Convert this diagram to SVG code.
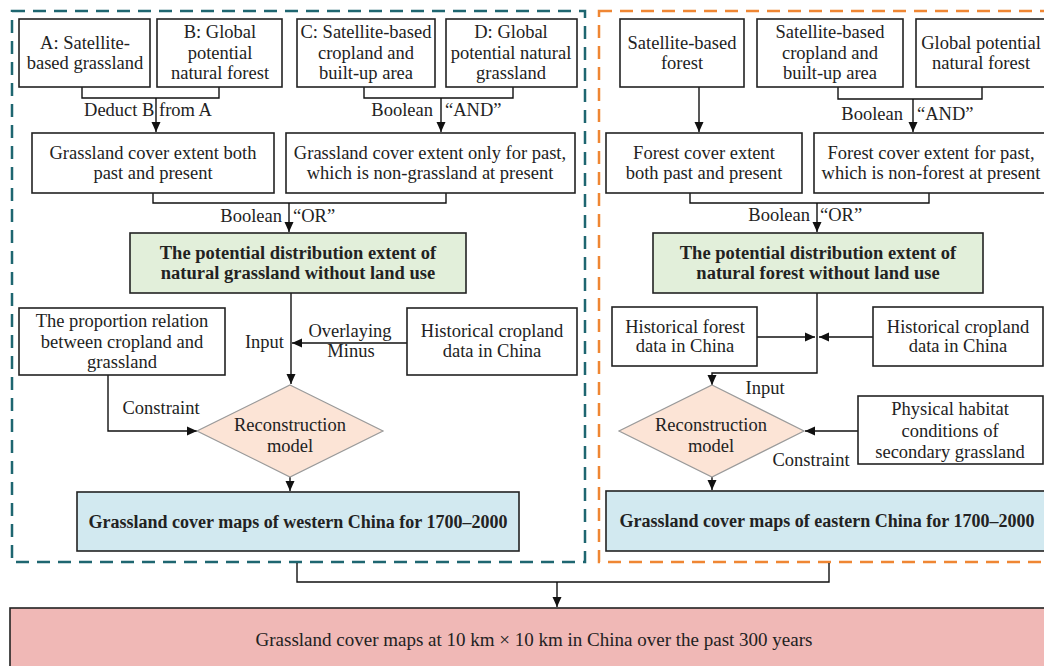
<svg xmlns="http://www.w3.org/2000/svg" width="1044" height="666" viewBox="0 0 1044 666">
<defs>
<marker id="ah" markerUnits="userSpaceOnUse" markerWidth="11" markerHeight="10" refX="10" refY="5" orient="auto"><path d="M0,0.5 L10,5 L0,9.5 z" fill="#111"/></marker>
<style>
.box{fill:#fff;stroke:#222;stroke-width:1.6}
.green{fill:#e2efda;stroke:#222;stroke-width:1.6}
.blue{fill:#d2e9f0;stroke:#222;stroke-width:1.6}
.pink{fill:#f0b8b6;stroke:#222;stroke-width:1.6}
.dia{fill:#fce4d6;stroke:#9a9a9a;stroke-width:1.2}
.t{font-family:"Liberation Serif","Times New Roman",serif;font-size:18.5px;fill:#222;text-anchor:middle}
.s{text-anchor:start}
.e{text-anchor:end}
.b{font-weight:bold}
.ln{fill:none;stroke:#111;stroke-width:1.4}
.ar{fill:none;stroke:#111;stroke-width:1.4;marker-end:url(#ah)}
.cont{fill:none;stroke-width:2.5;stroke-dasharray:13 8}
</style>
</defs>
<rect width="1044" height="666" fill="#fff"/>
<g id="containers">
<rect class="cont" x="12" y="11" width="573" height="551" stroke="#1e6670"/>
<rect class="cont" x="599" y="11" width="460" height="551" stroke="#ef8633"/>
</g>
<g id="connectors">
<path class="ln" d="M82,87 V98 H219 V87"/>
<path class="ar" d="M156,98 V132"/>
<path class="ln" d="M364,87 V98 H513 V87"/>
<path class="ar" d="M441,98 V132"/>
<path class="ln" d="M153,193 V203 H446 V193"/>
<path class="ar" d="M289,203 V232"/>
<path class="ar" d="M291,293 V384"/>
<path class="ar" d="M407,343 H292"/>
<path class="ar" d="M108,375 V431 H197"/>
<path class="ar" d="M290,477 V491"/>
<path class="ln" d="M297,563 V582 H829 V563"/>
<path class="ar" d="M557,582 V607"/>
<path class="ar" d="M699,87 V132"/>
<path class="ln" d="M838,87 V99 H982 V87"/>
<path class="ar" d="M913,99 V132"/>
<path class="ln" d="M690,193 V203 H929 V193"/>
<path class="ar" d="M817,203 V232"/>
<path class="ar" d="M817,293 V373 H712 V385"/>
<path class="ar" d="M757,337 H815"/>
<path class="ar" d="M873,337 H819"/>
<path class="ar" d="M858,431 H805"/>
<path class="ar" d="M712,477 V490"/>
</g>
<g id="labels">
<text class="t" x="148" y="116">Deduct B from A</text>
<text class="t e" x="433" y="116">Boolean</text>
<text class="t s" x="445" y="116">“AND”</text>
<text class="t e" x="282" y="222">Boolean</text>
<text class="t s" x="293" y="222">“OR”</text>
<text class="t e" x="284" y="348">Input</text>
<text class="t" x="350" y="337">Overlaying</text>
<text class="t" x="351" y="357">Minus</text>
<text class="t" x="161" y="414">Constraint</text>
<text class="t e" x="903" y="120">Boolean</text>
<text class="t s" x="917" y="120">“AND”</text>
<text class="t e" x="810" y="221">Boolean</text>
<text class="t s" x="820" y="221">“OR”</text>
<text class="t" x="765" y="394">Input</text>
<text class="t" x="811" y="466">Constraint</text>
</g>
<g id="nA"><rect class="box" x="19" y="19" width="131" height="68"/><text class="t" x="85" y="49">A: Satellite-</text><text class="t" x="85" y="69">based grassland</text></g>
<g id="nB"><rect class="box" x="157" y="19" width="125" height="68"/><text class="t" x="220" y="38">B: Global</text><text class="t" x="220" y="59">potential</text><text class="t" x="220" y="79">natural forest</text></g>
<g id="nC"><rect class="box" x="297" y="19" width="138" height="68"/><text class="t" x="366" y="38">C: Satellite-based</text><text class="t" x="366" y="59">cropland and</text><text class="t" x="366" y="79">built-up area</text></g>
<g id="nD"><rect class="box" x="446" y="19" width="131" height="68"/><text class="t" x="511" y="38">D: Global</text><text class="t" x="511" y="59">potential natural</text><text class="t" x="511" y="79">grassland</text></g>
<g id="nE"><rect class="box" x="32" y="133" width="242" height="60"/><text class="t" x="153" y="159">Grassland cover extent both</text><text class="t" x="153" y="179">past and present</text></g>
<g id="nF"><rect class="box" x="286" y="133" width="289" height="60"/><text class="t" x="430" y="159">Grassland cover extent only for past,</text><text class="t" x="430" y="179">which is non-grassland at present</text></g>
<g id="nG"><rect class="green" x="130" y="233" width="336" height="60"/><text class="t b" x="298" y="259">The potential distribution extent of</text><text class="t b" x="298" y="279">natural grassland without land use</text></g>
<g id="nP"><rect class="box" x="19" y="308" width="206" height="67"/><text class="t" x="122" y="327">The proportion relation</text><text class="t" x="122" y="348">between cropland and</text><text class="t" x="122" y="368">grassland</text></g>
<g id="nH"><rect class="box" x="407" y="308" width="170" height="67"/><text class="t" x="492" y="337">Historical cropland</text><text class="t" x="492" y="357">data in China</text></g>
<g id="nRL"><polygon class="dia" points="290,385 383,431 290,477 197,431"/><text class="t" x="290" y="431">Reconstruction</text><text class="t" x="290" y="452">model</text></g>
<g id="nWL"><rect class="blue" x="77" y="492" width="442" height="59"/><text class="t b" x="298" y="528" style="font-size:18px">Grassland cover maps of western China for 1700–2000</text></g>
<g id="nSF"><rect class="box" x="620" y="19" width="124" height="68"/><text class="t" x="682" y="49">Satellite-based</text><text class="t" x="682" y="69">forest</text></g>
<g id="nSC"><rect class="box" x="757" y="19" width="146" height="68"/><text class="t" x="830" y="38">Satellite-based</text><text class="t" x="830" y="59">cropland and</text><text class="t" x="830" y="79">built-up area</text></g>
<g id="nGP"><rect class="box" x="916" y="19" width="134" height="68"/><text class="t" x="981" y="49">Global potential</text><text class="t" x="981" y="69">natural forest</text></g>
<g id="nFE1"><rect class="box" x="606" y="133" width="196" height="60"/><text class="t" x="704" y="159">Forest cover extent</text><text class="t" x="704" y="179">both past and present</text></g>
<g id="nFE2"><rect class="box" x="814" y="133" width="236" height="60"/><text class="t" x="931" y="159">Forest cover extent for past,</text><text class="t" x="931" y="179">which is non-forest at present</text></g>
<g id="nGR"><rect class="green" x="653" y="233" width="330" height="60"/><text class="t b" x="818" y="259">The potential distribution extent of</text><text class="t b" x="818" y="279">natural forest without land use</text></g>
<g id="nHF"><rect class="box" x="612" y="307" width="145" height="59"/><text class="t" x="685" y="333">Historical forest</text><text class="t" x="685" y="352">data in China</text></g>
<g id="nHC"><rect class="box" x="873" y="307" width="170" height="59"/><text class="t" x="958" y="333">Historical cropland</text><text class="t" x="958" y="352">data in China</text></g>
<g id="nRR"><polygon class="dia" points="712,385 804,431 712,477 619,431"/><text class="t" x="711" y="431">Reconstruction</text><text class="t" x="711" y="452">model</text></g>
<g id="nPH"><rect class="box" x="858" y="396" width="185" height="68"/><text class="t" x="950" y="415">Physical habitat</text><text class="t" x="950" y="437">conditions of</text><text class="t" x="950" y="458">secondary grassland</text></g>
<g id="nWR"><rect class="blue" x="606" y="491" width="444" height="60"/><text class="t b" x="827" y="527" style="font-size:18px">Grassland cover maps of eastern China for 1700–2000</text></g>
<g id="nFinal"><rect class="pink" x="10" y="608" width="1050" height="80"/><text class="t" x="534" y="646" style="font-size:19px">Grassland cover maps at 10 km × 10 km in China over the past 300 years</text></g>
</svg>
